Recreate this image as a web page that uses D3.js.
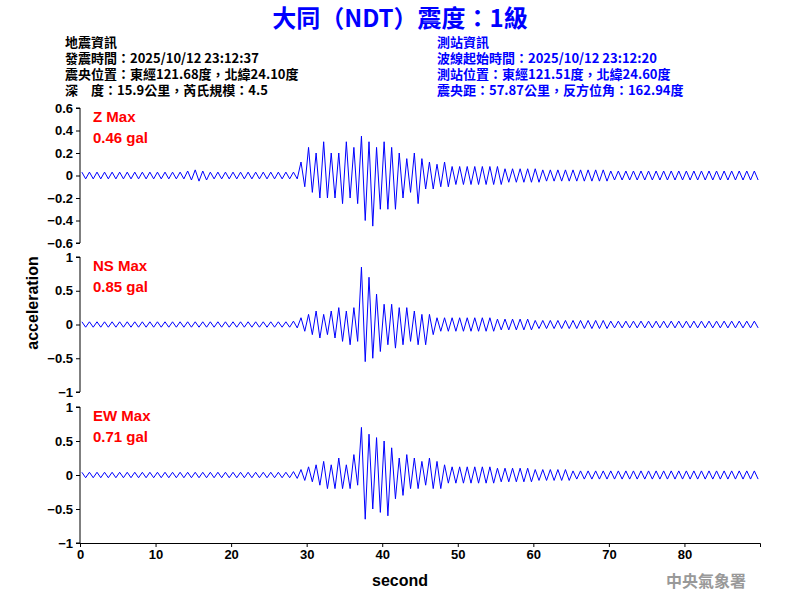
<!DOCTYPE html>
<html><head><meta charset="utf-8">
<script src="https://cdn.jsdelivr.net/npm/d3@7"></script>
<style>body{margin:0;background:#fff}text{font-family:Arial,"Liberation Sans",sans-serif}</style>
</head><body><div id="chart"></div>
<script>
// peak (hi) and trough (lo) per second, 0..89 s
const zHi = [.03,.03,.03,.03,.03,.03,.03,.03,.03,.03,.03,.03,.03,.03,.04,.05,.04,.03,.03,.03,.03,.03,.03,.03,.03,.03,.03,.03,.03,.12,.25,.2,.3,.2,.2,.3,.25,.35,.3,.25,.3,.25,.2,.15,.2,.15,.12,.1,.12,.08,.08,.08,.08,.08,.08,.08,.06,.06,.06,.06,.06,.05,.05,.05,.05,.05,.05,.05,.05,.05,.04,.04,.04,.04,.04,.04,.04,.04,.04,.04,.04,.04,.04,.04,.04,.04,.04,.04,.04,.04];
const zLo = [-.03,-.03,-.03,-.03,-.03,-.03,-.03,-.03,-.03,-.03,-.03,-.03,-.03,-.03,-.04,-.05,-.04,-.03,-.03,-.03,-.03,-.03,-.03,-.03,-.03,-.03,-.03,-.03,-.03,-.1,-.15,-.2,-.2,-.2,-.25,-.2,-.25,-.4,-.45,-.3,-.3,-.3,-.2,-.15,-.25,-.12,-.12,-.1,-.1,-.08,-.08,-.08,-.08,-.08,-.08,-.08,-.06,-.06,-.06,-.06,-.06,-.05,-.05,-.05,-.05,-.05,-.05,-.05,-.05,-.05,-.04,-.04,-.04,-.04,-.04,-.04,-.04,-.04,-.04,-.04,-.04,-.04,-.04,-.04,-.04,-.04,-.04,-.04,-.04,-.04];
const nsHi = [.04,.04,.04,.04,.04,.04,.04,.04,.04,.04,.04,.04,.04,.04,.04,.04,.04,.04,.04,.04,.04,.04,.04,.04,.04,.04,.04,.04,.05,.1,.15,.2,.15,.2,.25,.2,.25,.85,.7,.45,.3,.3,.25,.25,.2,.15,.15,.1,.1,.1,.1,.1,.1,.1,.1,.08,.08,.08,.08,.08,.06,.06,.06,.06,.06,.06,.06,.06,.06,.06,.05,.05,.05,.05,.05,.05,.05,.05,.05,.05,.05,.05,.05,.05,.05,.05,.05,.05,.05,.05];
const nsLo = [-.04,-.04,-.04,-.04,-.04,-.04,-.04,-.04,-.04,-.04,-.04,-.04,-.04,-.04,-.04,-.04,-.04,-.04,-.04,-.04,-.04,-.04,-.04,-.04,-.04,-.04,-.04,-.04,-.05,-.1,-.15,-.2,-.15,-.2,-.25,-.3,-.25,-.55,-.5,-.4,-.3,-.35,-.3,-.25,-.3,-.3,-.15,-.1,-.1,-.1,-.1,-.1,-.1,-.1,-.1,-.08,-.08,-.08,-.08,-.08,-.06,-.06,-.06,-.06,-.06,-.06,-.06,-.06,-.06,-.06,-.05,-.05,-.05,-.05,-.05,-.05,-.05,-.05,-.05,-.05,-.05,-.05,-.05,-.05,-.05,-.05,-.05,-.05,-.05,-.05];
const ewHi = [.04,.04,.04,.04,.04,.04,.04,.04,.04,.04,.04,.04,.04,.04,.04,.04,.04,.04,.04,.04,.04,.04,.04,.04,.04,.04,.04,.04,.05,.08,.12,.15,.2,.15,.25,.15,.3,.7,.6,.55,.5,.4,.25,.3,.25,.2,.25,.2,.15,.12,.12,.12,.12,.12,.12,.1,.1,.1,.1,.1,.08,.08,.08,.08,.08,.06,.06,.06,.06,.06,.06,.06,.06,.06,.06,.06,.06,.06,.06,.06,.06,.06,.06,.06,.06,.06,.06,.06,.06,.06];
const ewLo = [-.04,-.04,-.04,-.04,-.04,-.04,-.04,-.04,-.04,-.04,-.04,-.04,-.04,-.04,-.04,-.04,-.04,-.04,-.04,-.04,-.04,-.04,-.04,-.04,-.04,-.04,-.04,-.04,-.05,-.08,-.1,-.15,-.2,-.2,-.2,-.2,-.15,-.65,-.5,-.55,-.6,-.35,-.3,-.2,-.2,-.15,-.2,-.2,-.12,-.12,-.12,-.12,-.12,-.12,-.12,-.1,-.1,-.1,-.1,-.1,-.08,-.08,-.08,-.08,-.08,-.06,-.06,-.06,-.06,-.06,-.06,-.06,-.06,-.06,-.06,-.06,-.06,-.06,-.06,-.06,-.06,-.06,-.06,-.06,-.06,-.06,-.06,-.06,-.06,-.06];
const xTicks = [0,10,20,30,40,50,60,70,80];
const panels = [
  {name: "Z Max", peak: "0.46 gal", hi: zHi, lo: zLo, dom: [-0.6, 0.6], ticks: [0.6,0.4,0.2,0,-0.2,-0.4,-0.6]},
  {name: "NS Max", peak: "0.85 gal", hi: nsHi, lo: nsLo, dom: [-1, 1], ticks: [1,0.5,0,-0.5,-1]},
  {name: "EW Max", peak: "0.71 gal", hi: ewHi, lo: ewLo, dom: [-1, 1], ticks: [1,0.5,0,-0.5,-1]}
];
const leftInfo = ["地震資訊","發震時間：2025/10/12 23:12:37","震央位置：東經121.68度，北緯24.10度","深　度：15.9公里，芮氏規模：4.5"];
const rightInfo = ["測站資訊","波線起始時間：2025/10/12 23:12:20","測站位置：東經121.51度，北緯24.60度","震央距：57.87公里，反方位角：162.94度"];

const svg = d3.select("#chart").append("svg").attr("width", 800).attr("height", 600);
const x = d3.scaleLinear().domain([0, 90]).range([80, 760]);
const cjk = '"Noto Sans CJK TC","Noto Sans CJK SC",sans-serif';

svg.append("text").attr("x", 400).attr("y", 27).attr("text-anchor", "middle")
  .attr("fill", "#0000ff").style("font-size", "24px").style("font-weight", "bold")
  .style("font-family", cjk).text("大同（NDT）震度：1級");

leftInfo.forEach((t, i) => svg.append("text").attr("x", 65).attr("y", 47 + i * 16)
  .style("font-size", "13px").style("font-weight", "bold").style("font-family", cjk).text(t));
rightInfo.forEach((t, i) => svg.append("text").attr("x", 437).attr("y", 47 + i * 16)
  .attr("fill", "#0000ff").style("font-size", "13px").style("font-weight", "bold").style("font-family", cjk).text(t));

const tops = [108, 257, 407];
const heights = [135, 135, 136];

panels.forEach((p, k) => {
  const y = d3.scaleLinear().domain(p.dom).range([tops[k] + heights[k], tops[k]]);
  const pts = [];
  p.hi.forEach((h, i) => { pts.push([i + 0.25, h]); pts.push([i + 0.75, p.lo[i]]); });
  svg.append("path").datum(pts)
    .attr("d", d3.line().x(d => x(d[0])).y(d => y(d[1])))
    .attr("fill", "none").attr("stroke", "#0000ff").attr("stroke-width", 1);

  const ax = svg.append("g").attr("transform", "translate(80,0)")
    .call(d3.axisLeft(y).tickValues(p.ticks).tickSize(4).tickFormat(d3.format("")));
  ax.selectAll("text").style("font-size", "13px").style("font-weight", "bold").attr("fill", "#000");
  ax.select(".domain").attr("d", `M-4,${y(p.dom[1])}H0V${y(p.dom[0])}H-4`);

  svg.append("text").attr("x", 93).attr("y", tops[k] + 14).attr("fill", "#ff0000")
    .style("font-size", "15px").style("font-weight", "bold").text(p.name);
  svg.append("text").attr("x", 93).attr("y", tops[k] + 35).attr("fill", "#ff0000")
    .style("font-size", "15px").style("font-weight", "bold").text(p.peak);
});

const xa = svg.append("g").attr("transform", "translate(0,543)")
  .call(d3.axisBottom(x).tickValues(xTicks).tickSize(4));
xa.selectAll("text").style("font-size", "13px").style("font-weight", "bold");

svg.append("text").attr("x", 400).attr("y", 586).attr("text-anchor", "middle")
  .style("font-size", "16px").style("font-weight", "bold").text("second");
svg.append("text").attr("transform", "translate(38,303) rotate(-90)").attr("text-anchor", "middle")
  .style("font-size", "16px").style("font-weight", "bold").text("acceleration");
svg.append("text").attr("x", 746).attr("y", 587).attr("text-anchor", "end").attr("fill", "#999")
  .style("font-size", "16px").style("font-weight", "bold").style("font-family", cjk).text("中央氣象署");
</script></body></html>
